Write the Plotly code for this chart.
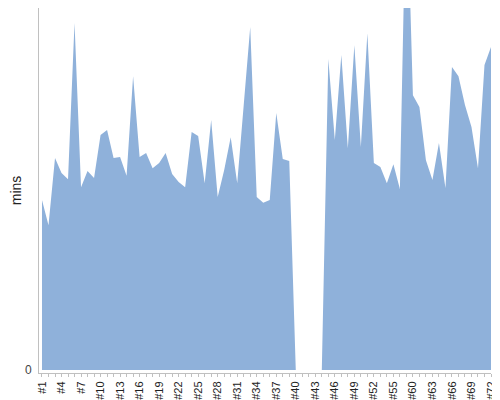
import plotly.graph_objects as go

# run labels (two between #55 and #60 are never shown)
runs = ["#%d" % n for n in range(1, 56)] + ["#57", "#58"] + ["#%d" % n for n in range(60, 73)]

mins = [
    46.6, 39.7, 58.1, 54.0, 52.3, 95.1, 50.1, 54.5, 52.6, 64.4,
    65.8, 58.1, 58.4, 53.2, 80.5, 58.4, 59.5, 55.3, 56.7, 59.5,
    53.7, 51.5, 50.1, 65.2, 64.1, 51.2, 68.5, 47.4, 54.8, 63.8,
    51.2, 72.6, 94.0, 47.4, 45.8, 46.6, 70.4, 57.8, 57.3, 0.0,
    0.0, 0.0, 0.0, 0.0, 85.2, 63.0, 86.3, 60.8, 89.0, 61.1,
    92.3, 56.7, 55.6, 51.2, 56.4, 49.6, 137.0, 75.3, 72.1, 57.5,
    52.1, 62.2, 49.9, 83.0, 80.5, 72.6, 66.6, 55.3, 83.6, 88.5,
]

idx = list(range(len(runs)))
fig = go.Figure(go.Scatter(
    x=idx, y=mins, mode="none", fill="tozeroy",
    fillcolor="rgb(143,177,218)", hoverinfo="x+y",
))

# the page body adds an 8px margin, so the figure is a bit smaller than the window
font = "Liberation Sans, Arial, sans-serif"
fig.update_layout(
    width=492, height=392,
    margin=dict(l=31, r=9, t=0, b=27),
    paper_bgcolor="white", plot_bgcolor="white",
    showlegend=False,
    font=dict(family=font, color="#222"),
    xaxis=dict(
        range=[-0.46, len(runs) - 1],
        tickvals=idx[::3], ticktext=runs[::3],
        tickangle=-90, tickfont=dict(size=11, color="#222"),
        showgrid=False, zeroline=False,
        showline=True, linecolor="#c0c0c0", linewidth=1,
        ticks="outside", ticklen=3, tickcolor="#c0c0c0",
        minor=dict(dtick=1, tick0=0, ticks="outside", ticklen=3, tickcolor="#c0c0c0"),
        automargin=False,
    ),
    yaxis=dict(
        range=[-0.82, 99.2],
        tickvals=[0], ticktext=["0"],
        tickfont=dict(size=12, color="#444"),
        ticks="", ticklabelstandoff=4,
        showgrid=False, zeroline=False,
        showline=True, linecolor="#c0c0c0", linewidth=1,
        title=dict(text="mins", font=dict(size=14, color="#222"), standoff=3),
        automargin=False,
    ),
)

fig.write_html("out.html")
